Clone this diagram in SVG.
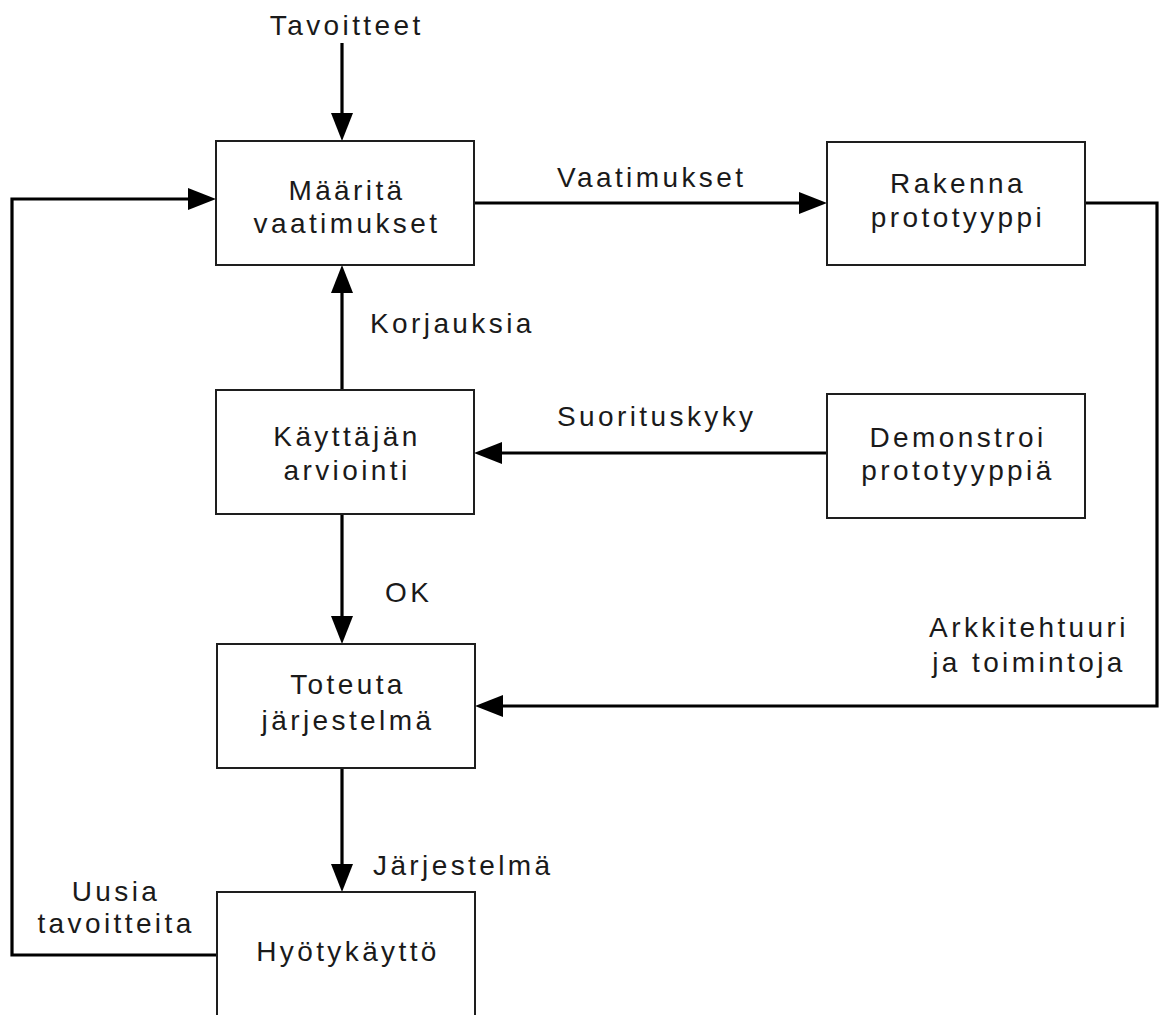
<svg xmlns="http://www.w3.org/2000/svg" width="1164" height="1015" viewBox="0 0 1164 1015">
  <style>
    .box { fill: #ffffff; stroke: #1e1e1e; stroke-width: 2; }
    .conn { fill: none; stroke: #000000; stroke-width: 3.2; stroke-linejoin: miter; }
    text { font-family: "Liberation Sans", Arial, sans-serif; font-size: 28px; letter-spacing: 3.4px; fill: #1a1a1a; }
    .c { text-anchor: middle; }
  </style>
  <defs>
    <marker id="arrow" markerUnits="userSpaceOnUse" markerWidth="30" markerHeight="24" refX="0" refY="11" orient="auto" overflow="visible">
      <path d="M0,0 L28,11 L0,22 Z" fill="#000000"/>
    </marker>
  </defs>

  <rect width="1164" height="1015" fill="#ffffff"/>

  <!-- connectors -->
  <g id="connectors">
    <path class="conn" d="M342,43 V113" marker-end="url(#arrow)"/>
    <path class="conn" d="M474,203 H799" marker-end="url(#arrow)"/>
    <path class="conn" d="M1085,203 H1157 V706 H503" marker-end="url(#arrow)"/>
    <path class="conn" d="M827,453 H502" marker-end="url(#arrow)"/>
    <path class="conn" d="M342,390 V293" marker-end="url(#arrow)"/>
    <path class="conn" d="M342,514 V616" marker-end="url(#arrow)"/>
    <path class="conn" d="M342,768 V864" marker-end="url(#arrow)"/>
    <path class="conn" d="M217,955 H12 V199 H188" marker-end="url(#arrow)"/>
  </g>

  <!-- connector labels -->
  <g id="labels">
    <text class="c" x="346.7" y="35">Tavoitteet</text>
    <text x="557" y="187">Vaatimukset</text>
    <text x="370" y="333">Korjauksia</text>
    <text x="557" y="426">Suorituskyky</text>
    <text x="385" y="602">OK</text>
    <text class="c" x="1029" y="637">Arkkitehtuuri</text>
    <text class="c" x="1029" y="672">ja toimintoja</text>
    <text x="373" y="875">Järjestelmä</text>
    <text class="c" x="116" y="901">Uusia</text>
    <text class="c" x="116" y="933">tavoitteita</text>
  </g>

  <!-- process nodes -->
  <g id="maarita">
    <rect class="box" x="216" y="141" width="258" height="124"/>
    <text class="c" x="347" y="200">Määritä</text>
    <text class="c" x="347" y="233">vaatimukset</text>
  </g>
  <g id="rakenna">
    <rect class="box" x="827" y="142" width="258" height="123"/>
    <text class="c" x="958" y="193">Rakenna</text>
    <text class="c" x="958" y="227">prototyyppi</text>
  </g>
  <g id="arviointi">
    <rect class="box" x="216" y="390" width="258" height="124"/>
    <text class="c" x="347" y="446">Käyttäjän</text>
    <text class="c" x="347" y="480">arviointi</text>
  </g>
  <g id="demonstroi">
    <rect class="box" x="827" y="394" width="258" height="124"/>
    <text class="c" x="958" y="447">Demonstroi</text>
    <text class="c" x="958" y="480">prototyyppiä</text>
  </g>
  <g id="toteuta">
    <rect class="box" x="217" y="644" width="258" height="124"/>
    <text class="c" x="348" y="694">Toteuta</text>
    <text class="c" x="348" y="730">järjestelmä</text>
  </g>
  <g id="hyotykaytto">
    <rect class="box" x="217" y="892" width="258" height="140"/>
    <text class="c" x="348" y="961">Hyötykäyttö</text>
  </g>
</svg>
